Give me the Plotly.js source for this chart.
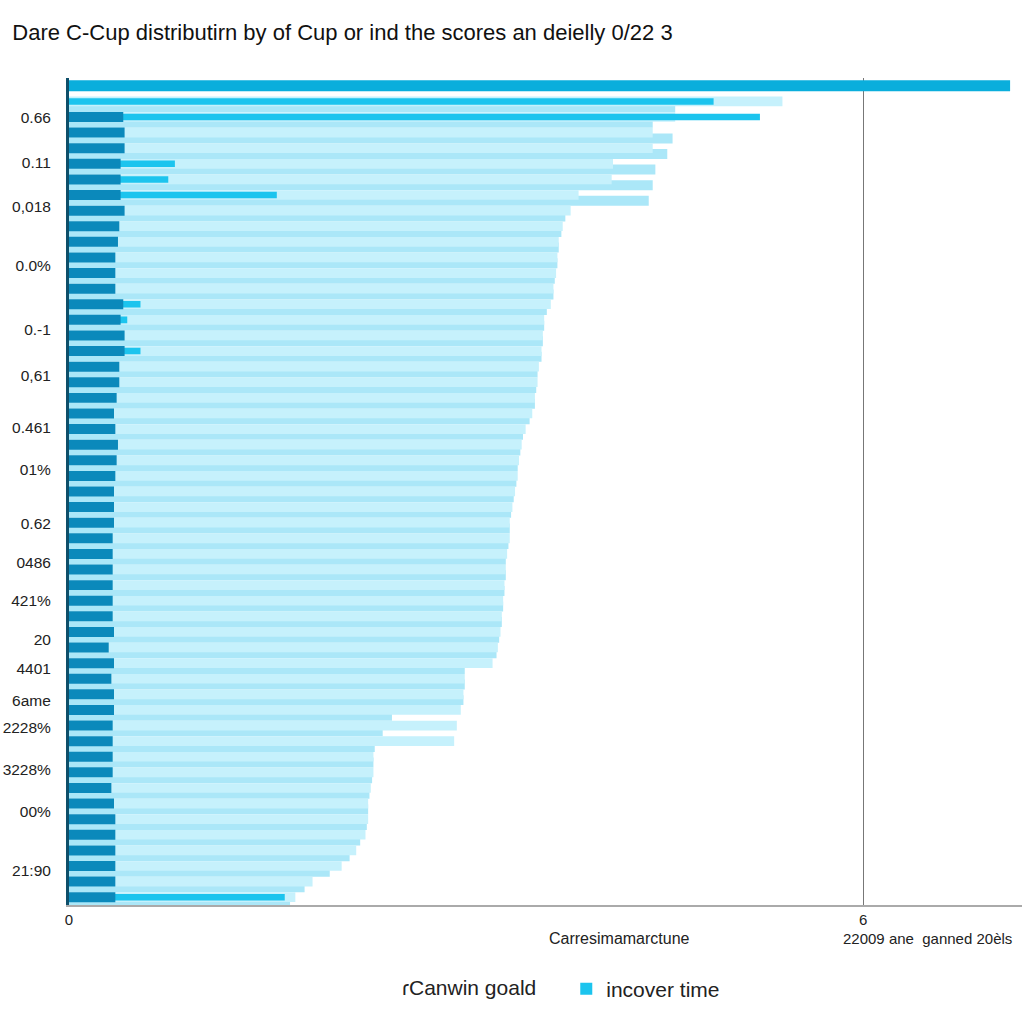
<!DOCTYPE html>
<html>
<head>
<meta charset="utf-8">
<script src="https://cdn.plot.ly/plotly-3.0.1.min.js"></script>
<style>html,body{margin:0;padding:0;background:#fff;}#chart{width:1024px;height:1024px;}</style>
</head>
<body>
<div id="chart"></div>
<script>
// Row indices (top to bottom)
const rows = Array.from({length: 53}, (_, i) => i);

// Top full-width bar (row 0 only)
const topBar = [7.11].concat(Array(52).fill(null));

// Light bars, level with the dark bars
const lightA = [null, 5.39, 4.58, 4.41, 4.41, 4.11, 4.10, 3.85, 3.79, 3.73,
  3.70, 3.69, 3.68, 3.66, 3.64, 3.59, 3.58, 3.57, 3.55, 3.54,
  3.52, 3.50, 3.45, 3.42, 3.40, 3.39, 3.37, 3.35, 3.33, 3.33,
  3.31, 3.30, 3.29, 3.28, 3.27, 3.26, 3.24, 3.20, 2.99, 2.98,
  2.96, 2.93, 2.91, 2.30, 2.30, 2.28, 2.26, 2.26, 2.24, 2.17,
  2.06, 1.84, 1.71];

// Light bars, between the dark bars
const lightB = [null, 4.58, 4.41, 4.56, 4.52, 4.43, 4.41, 4.38, 3.75, 3.72,
  3.70, 3.69, 3.67, 3.66, 3.61, 3.59, 3.58, 3.57, 3.54, 3.53,
  3.52, 3.48, 3.43, 3.41, 3.39, 3.38, 3.36, 3.34, 3.33, 3.32,
  3.30, 3.30, 3.29, 3.28, 3.27, 3.25, 3.23, 2.99, 2.99, 2.98,
  2.44, 2.37, 2.31, 2.30, 2.29, 2.27, 2.26, 2.25, 2.20, 2.12,
  1.97, 1.78, 1.67];

// Dark short bars ("ɾCanwin goald")
const darkBars = [null, null, 0.41, 0.42, 0.42, 0.39, 0.39, 0.39, 0.42, 0.38,
  0.37, 0.35, 0.35, 0.35, 0.41, 0.39, 0.42, 0.42, 0.38, 0.38,
  0.36, 0.34, 0.35, 0.37, 0.36, 0.35, 0.34, 0.34, 0.34, 0.33,
  0.33, 0.33, 0.33, 0.33, 0.33, 0.34, 0.30, 0.34, 0.32, 0.34,
  0.34, 0.33, 0.33, 0.33, 0.33, 0.32, 0.34, 0.35, 0.35, 0.35,
  0.35, 0.35, 0.35];

// Bright cyan accents ("incover time")
const accent = [null, 4.87, 5.22, null, null, 0.80, 0.75, 1.57, null, null,
  null, null, null, null, 0.54, 0.44, null, 0.54, null, null,
  null, null, null, null, null, null, null, null, null, null,
  null, null, null, null, null, null, null, null, null, null,
  null, null, null, null, null, null, null, null, null, null,
  null, null, 1.63];

// Y tick labels and their positions on the row scale
const yTickPos = [2.05, 4.94, 7.77, 11.49, 15.6, 18.55, 21.89, 24.58, 28.05, 30.55,
  33.0, 35.49, 37.36, 39.41, 41.14, 43.84, 46.53, 50.32];
const yTickText = ["0.66", "0.11", "0,018", "0.0%", "0.-1", "0,61", "0.461", "01%", "0.62", "0486",
  "421%", "20", "4401", "6ame", "2228%", "3228%", "00%", "21:90"];

const xTickVals = [0, 6];
const xTickText = ["0", "6"];

const FONT = "Liberation Sans, Arial, sans-serif";

const traces = [
  {type: 'bar', orientation: 'h', y: rows, x: lightB, width: 0.64, offset: 0.05,
   marker: {color: '#abe7f8', line: {width: 0}}, showlegend: false, hoverinfo: 'x'},
  {type: 'bar', orientation: 'h', y: rows, x: lightA, width: 0.62, offset: -0.31,
   marker: {color: '#c6f1fc', line: {width: 0}}, showlegend: false, hoverinfo: 'x'},
  {type: 'bar', orientation: 'h', y: rows, x: accent, width: 0.42, offset: -0.21,
   name: 'incover time', marker: {color: '#1cc4ee', line: {width: 0}}, showlegend: true},
  {type: 'bar', orientation: 'h', y: rows, x: darkBars, width: 0.64, offset: -0.32,
   name: 'ɾCanwin goald', marker: {color: '#0b89bb', line: {width: 0}}, showlegend: false},
  {type: 'bar', orientation: 'h', y: rows, x: topBar, width: 0.7, offset: -0.35,
   marker: {color: '#0aaedc', line: {width: 0}}, showlegend: false}
];

const layout = {
  width: 1024, height: 1024,
  paper_bgcolor: '#ffffff', plot_bgcolor: '#ffffff',
  margin: {l: 69, r: 2, t: 78, b: 119},
  barmode: 'overlay',
  font: {family: FONT, color: '#222', size: 15},
  title: {text: 'Dare C-Cup distributirn by of Cup or ind the scores an deielly 0/22 3',
    x: 0.012, xref: 'container', xanchor: 'left', y: 0.968, yref: 'container', yanchor: 'middle',
    font: {family: FONT, size: 22, color: '#111'}},
  xaxis: {range: [0, 7.2], tickvals: xTickVals, ticktext: xTickText, showgrid: true,
    gridcolor: '#777', gridwidth: 1, zeroline: false, showline: true, linecolor: '#aaaaaa',
    linewidth: 1.5, ticks: '', tickfont: {size: 15, color: '#222'}, fixedrange: true},
  yaxis: {range: [52.5, -0.5], tickvals: yTickPos, ticktext: yTickText, showgrid: false,
    zeroline: false, showline: true, linecolor: '#0e4f6a', linewidth: 3, ticks: '',
    ticklabelstandoff: 12, tickfont: {size: 15.5, color: '#222'}, fixedrange: true},
  showlegend: true,
  legend: {orientation: 'h', x: 0.553, xref: 'container', xanchor: 'left', y: 0.034, yref: 'container',
    yanchor: 'middle', font: {size: 21, color: '#222'}, bgcolor: 'rgba(0,0,0,0)'},
  annotations: [
    {text: 'Carresimamarctune', xref: 'paper', yref: 'paper', x: (619 - 69) / 953, y: -0.04,
     xanchor: 'center', yanchor: 'middle', showarrow: false, font: {size: 16, color: '#222'}},
    {text: '22009 ane  ganned 20èls', xref: 'paper', yref: 'paper', x: (927 - 69) / 953, y: -0.04,
     xanchor: 'center', yanchor: 'middle', showarrow: false, font: {size: 15, color: '#222'}},
    {text: 'ɾCanwin goald', xref: 'paper', yref: 'paper', x: (538 - 69) / 953, y: -0.1,
     xanchor: 'right', yanchor: 'middle', showarrow: false, font: {size: 21, color: '#222'}}
  ]
};

Plotly.newPlot('chart', traces, layout, {displayModeBar: false, staticPlot: true});
</script>
</body>
</html>
